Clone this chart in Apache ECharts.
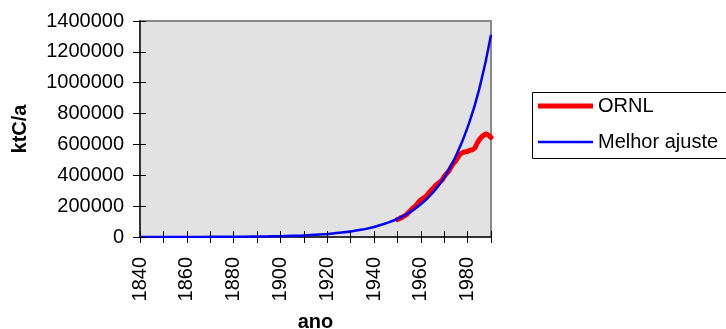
<!DOCTYPE html>
<html>
<head>
<meta charset="utf-8">
<script src="https://cdn.jsdelivr.net/npm/echarts@6/dist/echarts.min.js"></script>
<style>
  html, body { margin: 0; padding: 0; background: #fff; }
  #chart { width: 726px; height: 329px; }
</style>
</head>
<body>
<div id="chart"></div>
<script>
// anos e valores (ktC/a)
const ornlYears = [1950, 1951, 1952, 1953, 1954, 1955, 1956, 1957, 1958, 1959,
  1960, 1961, 1962, 1963, 1964, 1965, 1966, 1967, 1968, 1969,
  1970, 1971, 1972, 1973, 1974, 1975, 1976, 1977, 1978, 1979,
  1980, 1981, 1982, 1983, 1984, 1985, 1986, 1987, 1988, 1989, 1990]
const ornlValues = [113000, 120000, 128000, 137000, 147000, 162000, 178000, 192000, 205000, 225000,
  240000, 250000, 260000, 278000, 296000, 312000, 328000, 342000, 355000, 368000,
  392000, 410000, 428000, 455000, 478000, 495000, 520000, 538000, 548000, 552000,
  555000, 562000, 566000, 575000, 605000, 630000, 648000, 660000, 668000, 660000, 645000]

const fitYears = [1840, 1845, 1850, 1855, 1860, 1865, 1870, 1875, 1880, 1885,
  1890, 1895, 1900, 1905, 1910, 1915, 1920, 1925, 1930, 1935,
  1940, 1945, 1950, 1955, 1960, 1965, 1970, 1975, 1980, 1985, 1990]
const fitValues = [140, 190, 260, 350, 480, 650, 900, 1200, 1600, 2200,
  3000, 4100, 5600, 7600, 10000, 14000, 20000, 27000, 36000, 48000,
  65000, 88000, 117000, 157000, 212000, 285000, 385000, 525000, 710000, 960000, 1310000]

const yearLabels = [1840, 1860, 1880, 1900, 1920, 1940, 1960, 1980]

const chart = echarts.init(document.getElementById('chart'))
const font = 'Liberation Sans, Arial, sans-serif'

const option = {
  animation: false,
  textStyle: { fontFamily: font },
  grid: {
    left: 140, right: 235, top: 21, bottom: 92,
    containLabel: false,
    outerBoundsMode: 'none',
    show: true,
    backgroundColor: '#e2e2e2',
    borderColor: '#888888',
    borderWidth: 2
  },
  legend: [
    {
      data: ['ORNL'],
      left: 538, top: 96, padding: 0,
      icon: 'rect', itemWidth: 55, itemHeight: 5, itemGap: 5,
      textStyle: { fontSize: 20, color: '#000', fontFamily: font }
    },
    {
      data: ['Melhor ajuste'],
      left: 538, top: 132, padding: 0,
      icon: 'rect', itemWidth: 55, itemHeight: 2.5, itemGap: 5,
      textStyle: { fontSize: 20, color: '#000', fontFamily: font }
    }
  ],
  graphic: [{
    type: 'rect',
    shape: { x: 532.5, y: 92.5, width: 200, height: 66 },
    style: { fill: 'none', stroke: '#000', lineWidth: 1 }
  }],
  xAxis: [
    {
      type: 'value', min: 1840, max: 1990, interval: 10, position: 'bottom',
      name: 'ano', nameLocation: 'middle', nameGap: 75,
      nameTextStyle: { fontSize: 20, fontWeight: 'bold', color: '#000', fontFamily: font },
      axisLine: { onZero: false, lineStyle: { color: '#333', width: 2 } },
      axisTick: { length: 6, lineStyle: { color: '#000' } },
      axisLabel: {
        rotate: 90, margin: 20, fontSize: 20, color: '#000', fontFamily: font,
        formatter: v => yearLabels.includes(v) ? String(v) : ''
      },
      splitLine: { show: false }
    },
    {
      type: 'value', min: 1840, max: 1990, interval: 10, position: 'bottom', z: 10,
      axisLine: { show: false, onZero: false },
      axisTick: { show: true, inside: true, length: 6, lineStyle: { color: '#000' } },
      axisLabel: { show: false },
      splitLine: { show: false }
    }
  ],
  yAxis: [
    {
      type: 'value', min: 0, max: 1400000, interval: 200000, position: 'left',
      name: 'ktC/a', nameLocation: 'middle', nameGap: 110,
      nameTextStyle: { fontSize: 20, fontWeight: 'bold', color: '#000', fontFamily: font },
      axisLine: { show: true, lineStyle: { color: '#333', width: 2 } },
      axisTick: { show: true, length: 7, lineStyle: { color: '#000' } },
      axisLabel: { margin: 16, fontSize: 20, color: '#000', fontFamily: font, formatter: v => String(v) },
      splitLine: { show: false }
    },
    {
      type: 'value', min: 0, max: 1400000, interval: 200000, position: 'left', z: 10,
      axisLine: { show: false, onZero: false },
      axisTick: { show: true, inside: true, length: 6, lineStyle: { color: '#000' } },
      axisLabel: { show: false },
      splitLine: { show: false }
    }
  ],
  series: [
    {
      name: 'ORNL',
      type: 'line',
      data: ornlYears.map((y, i) => [y, ornlValues[i]]),
      showSymbol: false,
      smooth: 0.3,
      itemStyle: { color: '#ff0000' },
      lineStyle: { color: '#ff0000', width: 5, cap: 'round', join: 'round' }
    },
    {
      name: 'Melhor ajuste',
      type: 'line',
      data: fitYears.map((y, i) => [y, fitValues[i]]),
      showSymbol: false,
      smooth: true,
      itemStyle: { color: '#0000ff' },
      lineStyle: { color: '#0000ff', width: 2.5 }
    },
    {
      // série vazia só para ativar os eixos secundários (marcas internas)
      type: 'line', xAxisIndex: 1, yAxisIndex: 1, data: [], silent: true
    }
  ]
}

chart.setOption(option)
</script>
</body>
</html>
